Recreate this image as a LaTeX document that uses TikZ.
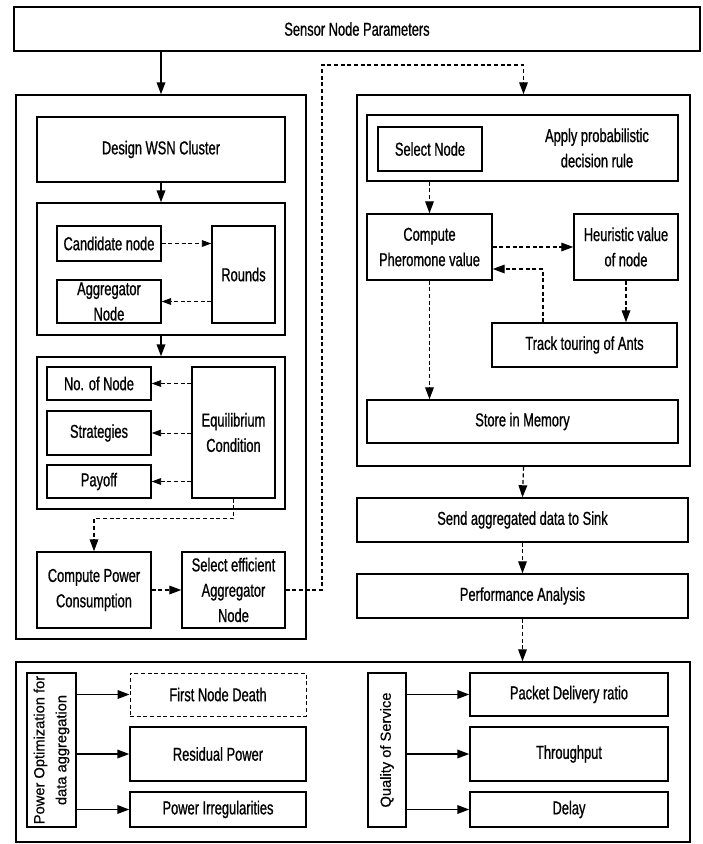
\documentclass[tikz,border=0pt]{standalone}
\usepackage{fontspec}
\setmainfont{Liberation Sans}[FakeStretch=0.69, FakeBold=0.8]
\newfontfamily\widefont{Liberation Sans}[FakeBold=0.6]
\usetikzlibrary{arrows.meta}

\begin{document}
\begin{tikzpicture}[
  x=0.75pt, y=-0.75pt,
  line join=miter,
  every node/.style={font=\fontsize{14}{19}\selectfont},
  box/.style={draw, line width=1.1pt, align=center, inner sep=1pt},
  sz/.style 2 args={minimum width=#1*0.75pt, minimum height=#2*0.75pt},
  arr/.style={line width=1.1pt, -{Triangle[length=9pt,width=6.5pt]}},
  darr/.style={line width=0.9pt, densely dashed, -{Triangle[length=9pt,width=6.5pt]}},
  tarr/.style={line width=0.6pt, densely dashed, -{Triangle[length=7pt,width=5pt]}},
  rot/.style={rotate=90, font=\widefont\fontsize{11}{16.5}\selectfont}
]
  \useasboundingbox (0,0) rectangle (703,844);

  % Input
  \node[box, sz={686}{44}] (params) at (357,29) {Sensor Node Parameters};

  % Left block: clustering and game
  \node[box, sz={290}{544}] (leftbig) at (161,367) {};
  \node[box, sz={248}{65}]  (design)  at (161,149.5) {Design WSN Cluster};

  \node[box, sz={248}{132}] (candgrp) at (161,269) {};
  \node[box, sz={104}{35}]  (cand)    at (109,243.5) {Candidate node};
  \node[box, sz={104}{43}]  (aggr)    at (109,301.5) {Aggregator\\Node};
  \node[box, sz={63}{97}]   (rounds)  at (243.5,274.5) {Rounds};

  \node[box, sz={248}{152}] (eqgrp)   at (161,433) {};
  \node[box, sz={104}{33}]  (nonode)  at (99,383.5) {No. of Node};
  \node[box, sz={104}{44}]  (strat)   at (99,433) {Strategies};
  \node[box, sz={104}{33}]  (payoff)  at (99,481.5) {Payoff};
  \node[box, sz={83}{131}]  (equil)   at (233.5,432.5) {Equilibrium\\Condition};

  \node[box, sz={114}{76}]  (power)   at (94,590) {Compute Power\\Consumption};
  \node[box, sz={103}{76}]  (select)  at (233.5,590) {Select efficient\\Aggregator\\Node};

  % Right block: ant colony
  \node[box, sz={333}{371}] (rightbig) at (523.5,280.5) {};
  \node[box, sz={311}{66}]  (applygrp) at (522.5,148) {};
  \node[box, sz={104}{44}]  (selnode)  at (430,149) {Select Node};
  \node[align=center]       (applytxt) at (597,148) {Apply probabilistic\\decision rule};
  \node[box, sz={125}{66}]  (pher)     at (429.5,247) {Compute\\Pheromone value};
  \node[box, sz={104}{66}]  (heur)     at (626,247) {Heuristic value\\of node};
  \node[box, sz={185}{44}]  (track)    at (584.5,345) {Track touring of Ants};
  \node[box, sz={311}{43}]  (store)    at (522.5,421.5) {Store in Memory};

  \node[box, sz={331}{44}]  (send)     at (522.5,520) {Send aggregated data to Sink};
  \node[box, sz={331}{44}]  (perf)     at (522.5,596) {Performance Analysis};

  % Results
  \node[box, sz={674}{180}] (bottom)   at (353,752) {};
  \node[box, rot, sz={154}{49}] (popt) at (51.5,750) {Power Optimization for\\data aggregation};
  \node[box, sz={176}{43}, line width=0.7pt, densely dashed] (fnd) at (218,694.5) {First Node Death};
  \node[box, sz={176}{54}]  (resid)    at (218,754) {Residual Power};
  \node[box, sz={176}{35}]  (irreg)    at (218,809.5) {Power Irregularities};
  \node[box, rot, sz={154}{38}] (qos)  at (387,750) {Quality of Service};
  \node[box, sz={198}{43}]  (pdr)      at (569,694.5) {Packet Delivery ratio};
  \node[box, sz={198}{54}]  (thru)     at (569,754) {Throughput};
  \node[box, sz={198}{35}]  (delay)    at (569,809.5) {Delay};

  % Connectors, left
  \draw[arr] (params.south -| leftbig.north) -- (leftbig.north);
  \draw[arr] (design.south) -- (candgrp.north);
  \draw[arr] (candgrp.south) -- (eqgrp.north);
  \draw[tarr] (cand.east) -- (cand.east -| rounds.west);
  \draw[tarr] (rounds.west |- aggr.east) -- (aggr.east);
  \foreach \n in {nonode,strat,payoff}
    \draw[tarr] (equil.west |- \n.east) -- (\n.east);
  \draw[darr] (equil.south) -- ++(0,20) -| (power.north);
  \draw[darr] (power.east) -- (select.west);

  % Jump to the right block
  \coordinate (jog) at (322,65);
  \draw[darr] (select.east) -| (jog) -| (rightbig.north);

  % Connectors, right
  \draw[darr] (applygrp.south -| pher.north) -- (pher.north);
  \draw[darr] (pher.east) -- (heur.west);
  \draw[darr] (heur.south) -- (heur.south |- track.north);
  \coordinate (back) at (543,269);
  \draw[darr] (track.north -| back) |- (pher.east |- back);
  \draw[darr] (pher.south) -- (pher.south |- store.north);
  \draw[darr] (rightbig.south) -- (send.north);
  \draw[darr] (send.south) -- (perf.north);
  \draw[darr] (perf.south) -- (perf.south |- bottom.north);

  % Connectors, results
  \foreach \n in {fnd,resid,irreg}
    \draw[arr] (popt.south |- \n.west) -- (\n.west);
  \foreach \n in {pdr,thru,delay}
    \draw[arr] (qos.south |- \n.west) -- (\n.west);
\end{tikzpicture}
\end{document}
